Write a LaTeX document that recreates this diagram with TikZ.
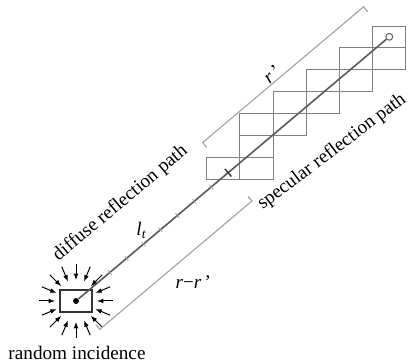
\documentclass[tikz,border=0pt]{standalone}
\usepackage{fontspec}
\setmainfont{Liberation Serif}
\usetikzlibrary{arrows.meta,positioning}

\begin{document}
\begin{tikzpicture}[
  x=0.5pt, y=0.5pt,
  font=\fontsize{9.6}{11}\selectfont,
  room/.style={draw=black!80, line width=1.1pt, minimum width=16pt, minimum height=10.8pt, inner sep=0pt},
  cell/.style={draw=black!50, line width=0.45pt},
  ray/.style={draw=black!65, line width=0.8pt},
  inar/.style={-{Latex[length=3.2pt,width=2.4pt]}, line width=0.5pt, black},
  tickln/.style={draw=black!35, line width=0.4pt},
  brk/.style={draw=black!35, line width=0.6pt},
  lbl/.style={inner sep=0pt}
]
  \useasboundingbox (0,0) rectangle (408,364);
  \node[room] (room) at (76,63) {};
  \node[circle, fill=black, inner sep=0pt, minimum size=3pt] (src) at (76,63) {};
  \node[circle, draw=black!65, line width=0.5pt, inner sep=0pt, minimum size=3.4pt] (img) at (389.3,327.2) {};
  \node[lbl] (inc) at (77,11) {random incidence};

  \foreach \i/\j in {0/0,1/0,1/1,1/2,2/2,2/3,3/3,3/4,4/4,4/5,5/5,5/6}
    \draw[cell] ({206.7+33.2*\i},{184.7+21.9*\j}) rectangle ++(33.2,21.9);

  \begin{scope}[shift={(room.center)}]
    \foreach \a in {0,22.5,...,337.5}
      \draw[inar] (\a:37) -- (\a:21);
  \end{scope}

  \draw[ray] (src) -- (img);

  \begin{scope}[shift={(src.center)}, rotate=40.14]
    \foreach \s in {2,...,8}
      \draw[tickln] (22.1*\s,-3) -- (22.1*\s,3);
    \draw[draw=black!80, line width=0.7pt] (199,-5) -- (199,5);
    \draw[brk] (199,33) -- (199,39.5) -- (409.5,39.5) -- (409.5,33);
    \draw[brk] (0,-31) -- (0,-37) -- (199,-37) -- (199,-31);
    \node[lbl, rotate=40] (rp) at (296,47) {\textit{r}\,'};
    \node[lbl] (rr) at (102,-61) {\textit{r}−\textit{r}\,'};
    \node[lbl] (lt) at (96,12) {\textit{l}\textsubscript{\textit{t}}};
    \node[lbl, rotate=40] (diff) at (97,46) {diffuse reflection path};
    \node[lbl, rotate=37] (spec) at (292,-51) {specular reflection path};
  \end{scope}
\end{tikzpicture}
\end{document}
